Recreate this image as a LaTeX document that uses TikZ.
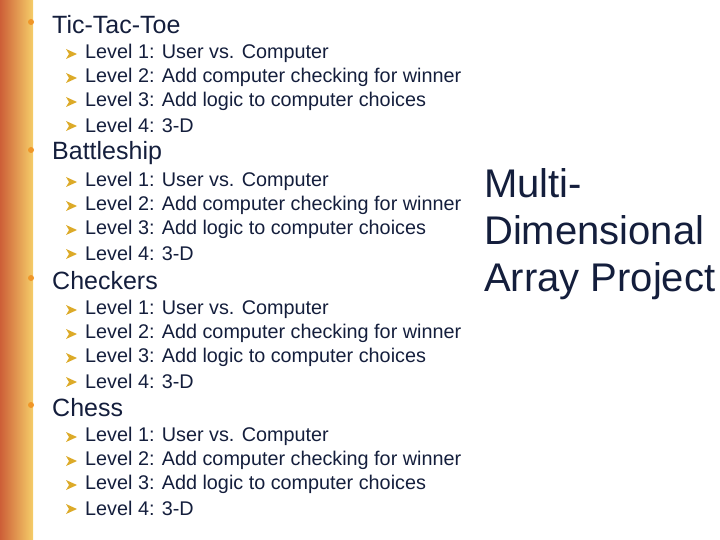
\documentclass[tikz,border=0pt]{standalone}
\usepackage{fontspec}
\setmainfont{Liberation Sans}
\usetikzlibrary{shadings}
\definecolor{navy}{RGB}{20,30,60}
\definecolor{dotorange}{RGB}{240,150,40}
\definecolor{tipgold}{RGB}{220,170,40}
\definecolor{stripeleft}{RGB}{205,95,55}
\definecolor{striperight}{RGB}{245,205,105}

\begin{document}
\begin{tikzpicture}[x=1pt,y=-1pt,
	heading/.style={anchor=west,text=navy,font=\fontsize{25}{27}\selectfont,inner sep=0pt},
	item/.style={anchor=west,text=navy,font=\fontsize{19.8}{22}\selectfont,inner sep=0pt}]

\useasboundingbox (0,0) rectangle (720,540);

% left stripe
\shade[left color=stripeleft,right color=striperight] (0,0) rectangle (33,540);

\foreach \name/\y [count=\i] in {Tic-Tac-Toe/25,Battleship/153,Checkers/281,Chess/408}{
	\fill[dotorange] (31,{\y-3}) circle (3);
	\node[heading] (head\i) at (52,\y) {\name};
	\foreach \txt [count=\j] in {Level 1: User vs. Computer,
		Level 2: Add computer checking for winner,
		Level 3: Add logic to computer choices,
		Level 4: 3-D}{
		\fill[tipgold] (66,{\y+29+24*(\j-1)-5}) -- (77,{\y+29+24*(\j-1)}) -- (66,{\y+29+24*(\j-1)+5}) -- (69,{\y+29+24*(\j-1)}) -- cycle;
		\node[item] (item\i\j) at (85,{\y+28+24*(\j-1)}) {\txt};
	}
}

\node[anchor=west,text=navy,font=\fontsize{40}{47}\selectfont,align=left,inner sep=0pt] (title) at (484,234)
	{Multi-\\Dimensional\\Array Project};

\end{tikzpicture}
\end{document}
